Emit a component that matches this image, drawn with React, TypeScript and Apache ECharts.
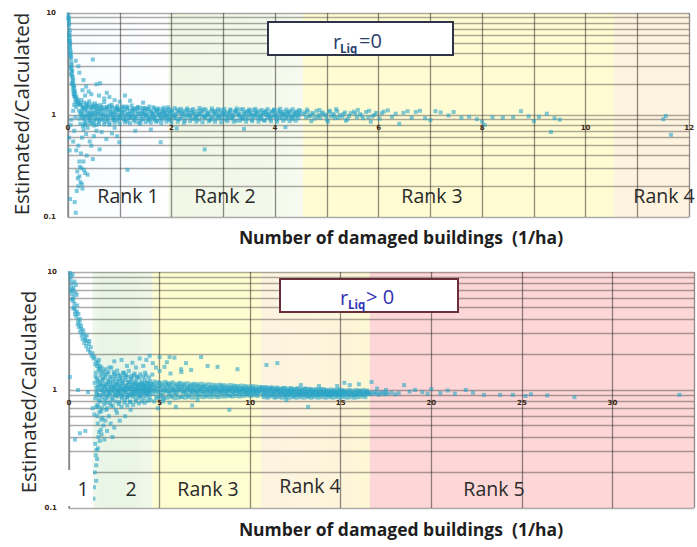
import React, { useEffect, useRef } from "react";
import * as echarts from "echarts";

// ---------- Upper chart (rLiq = 0) ----------
const topStreak: number[][] = [
  [0.01, 9.6], [0.02, 8.4], [0.02, 7.5], [0.03, 6.8], [0.02, 6.1], [0.03, 5.6], [0.04, 5.0], [0.03, 4.6],
  [0.05, 4.2], [0.04, 3.9], [0.05, 3.6], [0.06, 3.3], [0.07, 3.1], [0.05, 2.9], [0.08, 2.7], [0.06, 2.5],
  [0.09, 2.35], [0.1, 2.2], [0.08, 2.05], [0.11, 1.95], [0.12, 1.85], [0.1, 1.75], [0.13, 1.7], [0.14, 1.6],
  [0.12, 1.55], [0.16, 1.5], [0.15, 1.45], [0.18, 1.42], [0.2, 1.38], [0.17, 1.33], [0.22, 1.3], [0.19, 1.27],
  [0.25, 1.25], [0.15, 3.4], [0.2, 3.0], [0.22, 2.6], [0.48, 3.5], [0.55, 2.0], [0.62, 2.05], [0.3, 2.2],
  [0.35, 1.9], [0.4, 1.7], [0.45, 1.6], [0.28, 1.75], [0.33, 1.55], [0.6, 1.55], [0.7, 1.45], [0.8, 1.5],
  [0.9, 1.4], [1.0, 1.35], [1.2, 1.38], [1.45, 1.32], [0.75, 1.65], [1.1, 1.55], [0.02, 0.6], [0.05, 0.8],
  [0.03, 0.45], [0.06, 0.9], [0.01, 9.0], [0.02, 5.3], [0.04, 4.4], [0.07, 2.8], [0.09, 2.0], [0.11, 1.6],
  [0.01, 8.8], [0.02, 7.9], [0.03, 6.4], [0.03, 5.9], [0.04, 5.3], [0.04, 4.8], [0.05, 4.0], [0.06, 3.7],
  [0.06, 3.0], [0.07, 2.6], [0.08, 2.4], [0.09, 2.15], [0.1, 1.9], [0.12, 1.7], [0.13, 1.5], [0.14, 1.35],
  [0.16, 1.2], [0.12, 1.25], [0.1, 1.1], [0.14, 0.95],
];
const topLow: number[][] = [
  [0.04, 0.15], [0.13, 0.14], [0.15, 0.11], [0.17, 0.18], [0.2, 0.2], [0.22, 0.25], [0.24, 0.22], [0.26, 0.3],
  [0.18, 0.28], [0.3, 0.35], [0.28, 0.19], [0.33, 0.27], [0.36, 0.4], [0.38, 0.26], [0.48, 0.37], [0.25, 0.42],
  [0.2, 0.5], [0.61, 0.46], [0.74, 0.58], [0.99, 0.54], [1.15, 0.29], [1.79, 0.54], [2.64, 0.46], [0.42, 0.55],
  [0.5, 0.62], [0.35, 0.65], [0.55, 0.7], [0.3, 0.72], [0.65, 0.68], [0.85, 0.66], [0.45, 0.5], [0.27, 0.6],
  [0.22, 0.35], [0.16, 0.45], [0.9, 0.75], [1.3, 0.7], [0.95, 0.62], [1.6, 0.72], [2.1, 0.74], [3.4, 0.73],
  [4.2, 0.76], [0.12, 0.7], [0.1, 0.55], [0.32, 0.82], [0.23, 0.31], [0.19, 0.24], [0.27, 0.21], [0.31, 0.29],
];
const topBand: number[][] = [
  [0.21, 1.1], [0.22, 0.92], [0.23, 1.28], [0.24, 0.82], [0.25, 1.05], [0.26, 1.4], [0.27, 0.96], [0.28, 1.18],
  [0.29, 0.78], [0.3, 1.02], [0.31, 1.32], [0.32, 0.9], [0.33, 1.12], [0.34, 0.85], [0.35, 1.24], [0.36, 0.98],
  [0.37, 1.08], [0.38, 0.75], [0.39, 1.2], [0.4, 0.94], [0.41, 1.36], [0.42, 1.04], [0.43, 0.88], [0.44, 1.15],
  [0.45, 0.97], [0.46, 1.27], [0.47, 0.83], [0.48, 1.06], [0.49, 1.0], [0.5, 1.19], [0.51, 0.91], [0.52, 1.3],
  [0.53, 0.95], [0.54, 1.1], [0.55, 0.8], [0.56, 1.03], [0.57, 1.22], [0.58, 0.93], [0.59, 1.13], [0.6, 0.87],
  [0.62, 1.07], [0.63, 1.25], [0.64, 0.97], [0.66, 1.16], [0.67, 0.9], [0.68, 1.01], [0.7, 1.34], [0.71, 0.86],
  [0.72, 1.09], [0.74, 0.96], [0.75, 1.2], [0.77, 0.92], [0.78, 1.05], [0.8, 0.84], [0.81, 1.14], [0.83, 0.99],
  [0.84, 1.26], [0.86, 0.94], [0.87, 1.08], [0.89, 0.89], [0.9, 1.17], [0.92, 1.02], [0.93, 0.95], [0.95, 1.22],
  [0.96, 0.88], [0.98, 1.1], [0.99, 1.0], [1.01, 1.12], [1.03, 0.93], [1.05, 1.04], [1.06, 1.2], [1.08, 0.9],
  [1.1, 1.07], [1.12, 0.97], [1.14, 1.15], [1.15, 0.86], [1.17, 1.02], [1.19, 1.1], [1.21, 0.95], [1.23, 1.24],
  [1.25, 0.99], [1.27, 0.89], [1.29, 1.06], [1.31, 1.14], [1.33, 0.93], [1.35, 1.03], [1.37, 0.84], [1.39, 1.18],
  [1.41, 0.98], [1.43, 1.09], [1.45, 0.91], [1.47, 1.01], [1.49, 1.13], [1.51, 0.95], [1.53, 1.05], [1.55, 0.88],
  [1.57, 1.21], [1.59, 0.97], [1.61, 1.08], [1.63, 0.92], [1.65, 1.0], [1.67, 1.16], [1.69, 0.94], [1.71, 1.06],
  [1.73, 0.87], [1.75, 1.11], [1.77, 0.99], [1.79, 1.03], [1.81, 0.9], [1.83, 1.14], [1.85, 0.96], [1.87, 1.07],
  [1.89, 0.93], [1.91, 1.01], [1.93, 1.19], [1.95, 0.89], [1.97, 1.04], [1.99, 0.97], [2.02, 1.08], [2.05, 0.94],
  [2.08, 1.02], [2.11, 1.13], [2.14, 0.91], [2.17, 1.05], [2.2, 0.97], [2.23, 1.1], [2.26, 0.88], [2.29, 1.0],
  [2.32, 1.07], [2.35, 0.95], [2.38, 1.12], [2.41, 0.92], [2.44, 1.03], [2.47, 0.98], [2.5, 1.09], [2.53, 0.9],
  [2.56, 1.04], [2.59, 0.96], [2.62, 1.14], [2.65, 0.93], [2.68, 1.01], [2.71, 1.06], [2.74, 0.89], [2.77, 1.1],
  [2.8, 0.97], [2.83, 1.03], [2.86, 0.92], [2.89, 1.08], [2.92, 0.99], [2.95, 1.12], [2.98, 0.94], [3.01, 1.02],
  [3.04, 0.9], [3.07, 1.06], [3.1, 0.96], [3.13, 1.11], [3.16, 0.93], [3.19, 1.0], [3.22, 1.07], [3.25, 0.88],
  [3.28, 1.04], [3.31, 0.97], [3.34, 1.13], [3.37, 0.91], [3.4, 1.02], [3.43, 0.95], [3.46, 1.09], [3.49, 0.99],
  [3.52, 1.05], [3.55, 0.9], [3.58, 1.12], [3.61, 0.96], [3.64, 1.03], [3.67, 0.93], [3.7, 1.08], [3.73, 0.98],
  [3.76, 1.01], [3.79, 0.89], [3.82, 1.1], [3.85, 0.95], [3.88, 1.04], [3.91, 0.92], [3.94, 1.07], [3.97, 0.97],
  [4.0, 1.02], [4.03, 0.9], [4.06, 1.11], [4.09, 0.94], [4.12, 1.05], [4.15, 0.99], [4.18, 1.08], [4.21, 0.92],
  [4.24, 1.03], [4.27, 0.96], [4.3, 1.1], [4.33, 0.91], [4.36, 1.01], [4.39, 0.97], [4.42, 1.06], [4.45, 0.93],
  [4.48, 1.04],
];
const topBandB: number[][] = [
  [0.24, 1.0], [0.29, 1.15], [0.33, 0.97], [0.37, 1.3], [0.41, 0.9], [0.45, 1.05], [0.5, 0.86], [0.54, 1.16],
  [0.58, 1.03], [0.63, 0.91], [0.67, 1.12], [0.72, 1.0], [0.76, 0.88], [0.8, 1.23], [0.85, 1.03], [0.89, 0.96],
  [0.94, 1.12], [0.98, 0.92], [1.02, 1.0], [1.07, 1.13], [1.11, 0.9], [1.16, 1.03], [1.2, 0.96], [1.24, 1.09],
  [1.28, 0.94], [1.33, 1.17], [1.38, 1.02], [1.42, 0.92], [1.46, 1.07], [1.5, 0.99], [1.54, 1.15], [1.58, 0.91],
  [1.62, 1.02], [1.66, 0.95], [1.7, 1.1], [1.74, 1.0], [1.78, 0.92], [1.82, 1.06], [1.86, 1.01], [1.9, 1.12],
  [1.94, 0.95], [1.98, 1.08], [2.03, 1.0], [2.09, 0.93], [2.15, 1.1], [2.21, 1.03], [2.27, 0.95], [2.33, 1.01],
  [2.39, 1.04], [2.45, 0.92], [2.51, 1.0], [2.57, 1.11], [2.63, 0.98], [2.69, 1.04], [2.75, 0.95], [2.81, 1.07],
  [2.87, 1.01], [2.93, 0.93], [2.99, 1.05], [3.05, 0.99], [3.11, 1.03], [3.17, 0.94], [3.23, 1.1], [3.29, 1.0],
  [3.35, 0.95], [3.41, 1.06], [3.47, 0.92], [3.53, 1.02], [3.59, 1.0], [3.65, 1.09], [3.71, 0.94], [3.77, 1.05],
  [3.83, 1.0], [3.89, 0.96], [3.95, 1.09], [4.01, 0.98], [4.07, 1.03], [4.13, 0.93], [4.19, 1.01], [4.25, 1.07],
  [4.31, 0.97], [4.37, 1.04], [4.43, 0.99], [4.49, 1.1],
];
const topBandC: number[][] = [
  [0.26, 1.08], [0.3, 0.93], [0.35, 1.17], [0.39, 1.03], [0.43, 0.96], [0.48, 1.22], [0.52, 1.05], [0.56, 0.9],
  [0.61, 1.14], [0.65, 1.02], [0.69, 0.95], [0.73, 1.18], [0.78, 0.97], [0.82, 1.07], [0.87, 0.91], [0.91, 1.06],
  [0.96, 1.15], [1.0, 0.94], [1.04, 1.08], [1.09, 0.98], [1.13, 1.21], [1.18, 0.93], [1.22, 1.03], [1.26, 1.13],
  [1.31, 0.97], [1.36, 1.09], [1.4, 0.88], [1.44, 1.03], [1.48, 1.17], [1.52, 1.01], [1.56, 0.93], [1.6, 1.09],
  [1.64, 1.04], [1.68, 0.9], [1.72, 1.13], [1.76, 1.03], [1.8, 0.95], [1.84, 1.09], [1.88, 0.98], [1.92, 1.05],
  [1.96, 0.92], [2.0, 1.11], [2.06, 0.98], [2.12, 1.06], [2.18, 0.92], [2.24, 1.04], [2.3, 1.12], [2.36, 0.98],
  [2.42, 1.07], [2.48, 0.94], [2.54, 1.02], [2.6, 1.08], [2.66, 0.96], [2.72, 1.01], [2.78, 0.91], [2.84, 1.1],
  [2.9, 0.96], [2.96, 1.03], [3.02, 1.09], [3.08, 0.93], [3.14, 1.04], [3.2, 0.97], [3.26, 1.11], [3.32, 1.02],
  [3.38, 0.94], [3.44, 1.04], [3.5, 1.1], [3.56, 0.96], [3.62, 1.05], [3.68, 1.0], [3.74, 0.91], [3.8, 1.07],
  [3.86, 1.02], [3.92, 0.97], [3.98, 1.11], [4.04, 0.95], [4.1, 1.07], [4.16, 1.02], [4.22, 0.96], [4.28, 1.05],
  [4.34, 0.94], [4.4, 1.08], [4.46, 1.01],
];
const topBandEdgePts: number[][] = [
  [0.3, 1.2], [0.34, 0.8], [0.38, 1.25], [0.42, 0.83], [0.46, 1.18], [0.5, 0.79], [0.55, 1.24], [0.6, 0.82],
  [0.65, 1.2], [0.7, 0.81], [0.75, 1.15], [0.8, 0.8], [0.85, 1.19], [0.9, 0.84], [0.95, 1.17], [1.0, 0.82],
  [1.05, 1.21], [1.1, 0.85], [1.15, 1.18], [1.2, 0.83], [1.25, 1.16], [1.3, 0.86], [1.35, 1.2], [1.4, 0.82],
  [1.45, 1.17], [1.5, 0.85], [1.55, 1.14], [1.6, 0.84], [1.65, 1.19], [1.7, 0.86], [1.75, 1.16], [1.8, 0.83],
  [1.85, 1.18], [1.9, 0.86], [1.95, 1.14], [2.0, 0.85], [2.06, 1.17], [2.12, 0.86], [2.18, 1.15], [2.24, 0.84],
  [2.3, 1.16], [2.36, 0.87], [2.42, 1.14], [2.48, 0.86], [2.54, 1.17], [2.6, 0.85], [2.66, 1.13], [2.72, 0.87],
  [2.78, 1.16], [2.84, 0.86], [2.9, 1.14], [2.96, 0.85], [3.02, 1.15], [3.08, 0.87], [3.14, 1.13], [3.2, 0.86],
  [3.26, 1.16], [3.32, 0.88], [3.38, 1.14], [3.44, 0.86], [3.5, 1.13], [3.56, 0.87], [3.62, 1.15], [3.68, 0.86],
  [3.74, 1.12], [3.8, 0.88], [3.86, 1.14], [3.92, 0.87], [3.98, 1.13], [4.04, 0.86], [4.1, 1.15], [4.16, 0.88],
  [4.22, 1.13], [4.28, 0.87], [4.34, 1.14], [4.4, 0.88], [4.46, 1.12],
];
const topRank3: number[][] = [
  [4.55, 1.02], [4.6, 0.95], [4.63, 1.08], [4.68, 0.99], [4.72, 1.05], [4.76, 0.92], [4.8, 1.1], [4.84, 1.0],
  [4.88, 0.94], [4.92, 1.06], [4.96, 1.01], [5.0, 0.9], [5.04, 1.07], [5.08, 0.97], [5.12, 1.03], [5.16, 0.93],
  [5.2, 1.09], [5.25, 1.0], [5.3, 0.96], [5.35, 1.06], [5.4, 0.91], [5.46, 1.04], [5.52, 1.08], [5.58, 0.95],
  [5.64, 1.02], [5.7, 0.93], [5.76, 1.07], [5.82, 1.1], [5.88, 0.97], [5.95, 1.05], [6.02, 0.92], [6.1, 1.08],
  [6.18, 1.11], [6.26, 0.96], [6.33, 1.03], [6.4, 0.82], [6.48, 1.05], [6.56, 1.09], [6.64, 0.94], [6.72, 1.07],
  [6.8, 1.1], [6.9, 0.93], [7.0, 0.89], [7.1, 1.09], [7.2, 1.06], [7.35, 0.99], [7.45, 1.07], [7.6, 0.94],
  [7.75, 0.96], [7.9, 0.91], [8.0, 0.86], [8.05, 0.8], [8.2, 0.95], [8.4, 0.94], [8.6, 0.95], [8.75, 1.09],
  [8.9, 0.97], [9.0, 0.87], [9.1, 0.96], [9.25, 1.03], [9.33, 0.68], [9.4, 0.93], [9.5, 0.9],
  [4.58, 1.06], [4.66, 0.97], [4.74, 1.01], [4.82, 0.95], [4.9, 1.03], [4.98, 0.98], [5.06, 1.1], [5.14, 0.99],
  [5.22, 0.94], [5.32, 1.02], [5.43, 0.98], [5.55, 1.03], [5.67, 0.99], [5.8, 0.95], [5.92, 1.0], [6.06, 1.04],
  [4.62, 1.13], [4.7, 0.87], [4.86, 1.12], [5.02, 0.86], [5.18, 1.14], [5.37, 0.88], [5.6, 1.12], [5.85, 0.86],
  [11.5, 0.91], [11.65, 0.64], [11.55, 0.98],
];

// ---------- Lower chart (rLiq > 0) ----------
const botStreak: number[][] = [
  [0.05, 9.8], [0.1, 9.2], [0.08, 8.6], [0.15, 8.0], [0.12, 7.4], [0.2, 7.0], [0.18, 6.5], [0.25, 6.1],
  [0.22, 5.7], [0.3, 5.4], [0.28, 5.0], [0.35, 4.7], [0.33, 4.4], [0.4, 4.2], [0.38, 7.8], [0.3, 8.3],
  [0.42, 6.4], [0.45, 5.2], [0.5, 3.9], [0.48, 3.6], [0.55, 3.4], [0.6, 4.0], [0.62, 3.1], [0.7, 2.9],
  [0.66, 3.5], [0.75, 2.7], [0.8, 3.0], [0.85, 2.5], [0.9, 2.8], [0.95, 2.35], [1.0, 2.6], [1.05, 2.2],
  [1.1, 2.45], [1.15, 2.1], [1.2, 2.3], [1.25, 1.95], [1.3, 2.05], [1.35, 1.85], [1.4, 1.9], [1.5, 1.75],
  [1.45, 1.65], [1.6, 1.7], [1.7, 1.6], [1.65, 1.8], [1.8, 1.55], [0.05, 1.29], [0.33, 0.38], [0.6, 0.43],
  [0.5, 1.0], [1.05, 0.96], [0.1, 6.9], [0.2, 9.5], [0.26, 7.3], [0.16, 5.9], [0.36, 6.7], [0.24, 4.9],
  [0.44, 4.6], [0.52, 4.4], [0.58, 3.7], [0.68, 3.3], [0.78, 3.2], [0.88, 2.65], [0.98, 2.9], [1.12, 2.6],
];
const botDown: number[][] = [
  [1.35, 0.12], [1.38, 0.15], [1.42, 0.2], [1.5, 0.23], [1.48, 0.28], [1.55, 0.26], [1.6, 0.32], [1.45, 0.35],
  [1.7, 0.37], [1.62, 0.4], [1.8, 0.42], [1.75, 0.46], [1.9, 0.5], [1.58, 0.52], [2.0, 0.55], [1.85, 0.58],
  [2.1, 0.45], [1.95, 0.38], [2.2, 0.6], [1.4, 0.62], [1.68, 0.65], [2.3, 0.52], [2.05, 0.68], [1.3, 0.7],
  [1.5, 0.72], [0.9, 0.45], [2.5, 0.48], [2.8, 0.55], [3.1, 0.6], [2.65, 0.64], [3.4, 0.68], [2.4, 0.4],
  [1.5, 0.17], [1.52, 0.31], [1.66, 0.44], [1.78, 0.56], [1.57, 0.6],
];
const botCloud: number[][] = [
  [1.42, 1.15], [1.45, 0.85], [1.48, 1.4], [1.51, 0.95], [1.54, 1.25], [1.57, 0.75], [1.6, 1.05], [1.63, 1.5],
  [1.66, 0.9], [1.69, 1.18], [1.72, 0.8], [1.75, 1.32], [1.78, 1.0], [1.81, 0.7], [1.84, 1.22], [1.87, 0.93],
  [1.9, 1.45], [1.93, 1.08], [1.96, 0.82], [1.99, 1.28], [2.02, 0.97], [2.05, 1.12], [2.08, 0.78], [2.11, 1.38],
  [2.14, 1.02], [2.17, 0.88], [2.2, 1.2], [2.23, 1.55], [2.26, 0.92], [2.29, 1.1], [2.32, 0.74], [2.35, 1.3],
  [2.38, 1.0], [2.41, 0.86], [2.44, 1.16], [2.47, 1.42], [2.5, 0.95], [2.53, 1.06], [2.56, 0.8], [2.59, 1.24],
  [2.62, 0.98], [2.65, 1.12], [2.68, 0.88], [2.71, 1.35], [2.74, 1.03], [2.77, 0.79], [2.8, 1.19], [2.83, 0.93],
  [2.86, 1.08], [2.89, 1.28], [2.92, 0.85], [2.95, 1.0], [2.98, 1.15], [3.01, 0.9], [3.04, 1.4], [3.07, 1.05],
  [3.1, 0.82], [3.13, 1.22], [3.16, 0.96], [3.19, 1.1], [3.22, 0.87], [3.25, 1.3], [3.28, 1.02], [3.31, 0.92],
  [3.34, 1.17], [3.37, 0.8], [3.4, 1.07], [3.43, 1.25], [3.46, 0.94], [3.49, 1.12], [3.52, 0.88], [3.55, 1.0],
  [3.58, 1.33], [3.61, 0.97], [3.64, 1.09], [3.67, 0.84], [3.7, 1.2], [3.73, 1.01], [3.76, 0.91], [3.79, 1.14],
  [3.82, 1.05], [3.85, 0.86], [3.88, 1.27], [3.91, 0.98], [3.94, 1.1], [3.97, 0.9], [4.0, 1.18], [4.03, 1.03],
  [4.06, 0.93], [4.09, 1.12], [4.12, 0.85], [4.15, 1.06], [4.18, 1.22], [4.21, 0.96], [4.24, 1.08], [4.27, 0.89],
  [4.3, 1.15], [4.33, 1.0], [4.36, 0.92], [4.39, 1.1], [4.42, 1.04], [4.45, 0.87], [4.48, 1.19], [4.51, 0.97],
  [4.54, 1.07],
];
const botCloudB: number[][] = [
  [1.5, 1.05], [1.56, 0.98], [1.62, 1.12], [1.68, 0.9], [1.74, 1.08], [1.8, 1.0], [1.86, 1.15], [1.92, 0.95],
  [1.98, 1.06], [2.04, 0.9], [2.1, 1.1], [2.16, 1.0], [2.22, 0.94], [2.28, 1.16], [2.34, 1.04], [2.4, 0.97],
  [2.46, 1.08], [2.52, 0.9], [2.58, 1.12], [2.64, 1.02], [2.7, 0.95], [2.76, 1.1], [2.82, 1.0], [2.88, 0.92],
  [2.94, 1.13], [3.0, 1.03], [3.06, 0.96], [3.12, 1.08], [3.18, 1.0], [3.24, 0.91], [3.3, 1.12], [3.36, 1.02],
  [3.42, 0.97], [3.48, 1.06], [3.54, 1.14], [3.6, 0.93], [3.66, 1.03], [3.72, 1.1], [3.78, 0.98], [3.84, 1.05],
  [3.9, 0.94], [3.96, 1.02], [4.02, 1.11], [4.08, 0.99], [4.14, 1.04], [4.2, 0.95], [4.26, 1.08], [4.32, 1.01],
  [4.38, 0.96], [4.44, 1.06], [4.5, 1.0], [4.56, 1.12],
];
const botCloudC: number[][] = [
  [1.47, 1.3], [1.53, 0.9], [1.59, 1.2], [1.65, 0.82], [1.71, 1.43], [1.77, 1.1], [1.83, 0.87], [1.89, 1.25],
  [1.95, 1.02], [2.01, 1.35], [2.07, 0.85], [2.13, 1.18], [2.19, 0.96], [2.25, 1.28], [2.31, 1.06], [2.37, 0.83],
  [2.43, 1.22], [2.49, 1.04], [2.55, 1.32], [2.61, 0.9], [2.67, 1.16], [2.73, 0.96], [2.79, 1.24], [2.85, 1.04],
  [2.91, 0.88], [2.97, 1.2], [3.03, 0.99], [3.09, 1.3], [3.15, 1.05], [3.21, 0.87], [3.27, 1.17], [3.33, 1.05],
  [3.39, 0.9], [3.45, 1.23], [3.51, 1.02], [3.57, 0.92], [3.63, 1.15], [3.69, 1.03], [3.75, 1.28], [3.81, 0.95],
  [3.87, 1.1], [3.93, 0.88], [3.99, 1.13], [4.05, 1.02], [4.11, 0.96], [4.17, 1.14], [4.23, 1.03], [4.29, 0.93],
  [4.35, 1.16], [4.41, 1.0], [4.47, 0.93], [4.53, 1.13],
];
const botCloudEdge: number[][] = [
  [1.55, 1.6], [1.62, 0.72], [1.7, 1.52], [1.78, 0.66], [1.86, 1.38], [1.94, 0.76], [2.02, 1.5], [2.1, 0.7],
  [2.18, 1.42], [2.26, 0.78], [2.34, 1.55], [2.42, 0.73], [2.5, 1.36], [2.58, 0.68], [2.66, 1.46], [2.74, 0.76],
  [2.82, 1.33], [2.9, 0.72], [2.98, 1.4], [3.06, 0.78], [3.14, 1.34], [3.22, 0.74], [3.3, 1.45], [3.38, 0.79],
  [3.46, 1.32], [3.54, 0.75], [3.62, 1.38], [3.7, 0.8], [3.78, 1.3], [3.86, 0.77], [3.94, 1.36], [4.02, 0.8],
  [4.1, 1.3], [4.18, 0.78], [4.26, 1.33], [4.34, 0.81], [4.42, 1.28], [4.5, 0.82],
];
const botUpper: number[][] = [
  [3.9, 1.85], [4.1, 1.6], [4.27, 1.8], [4.63, 1.69], [5.0, 1.9], [5.27, 1.57], [5.55, 1.9], [5.82, 1.88],
  [6.19, 1.5], [6.46, 1.69], [6.74, 1.48], [7.29, 1.9], [7.65, 1.6], [8.2, 1.57], [9.3, 1.5], [4.2, 1.4],
  [4.6, 1.35], [5.0, 1.45], [5.6, 1.38], [6.2, 1.42], [3.5, 1.7], [3.7, 1.55], [3.2, 1.6], [2.9, 1.8],
  [2.5, 1.75], [4.45, 1.95], [4.8, 1.55], [5.4, 1.72],
];
const botRank3: number[][] = [
  [4.6, 1.05], [4.65, 0.93], [4.7, 1.12], [4.75, 0.98], [4.8, 1.08], [4.85, 0.88], [4.9, 1.02], [4.95, 1.15],
  [5.0, 0.95], [5.05, 1.06], [5.1, 0.9], [5.15, 1.1], [5.2, 1.0], [5.25, 0.86], [5.3, 1.08], [5.35, 0.97],
  [5.4, 1.13], [5.45, 1.01], [5.5, 0.92], [5.55, 1.06], [5.6, 0.98], [5.65, 1.11], [5.7, 0.89], [5.75, 1.03],
  [5.8, 0.96], [5.85, 1.09], [5.9, 1.0], [5.95, 0.91], [6.0, 1.07], [6.05, 0.97], [6.1, 1.12], [6.15, 1.02],
  [6.2, 0.88], [6.25, 1.05], [6.3, 0.95], [6.35, 1.1], [6.4, 0.99], [6.45, 0.92], [6.5, 1.06], [6.55, 1.01],
  [6.6, 0.9], [6.65, 1.08], [6.7, 0.96], [6.75, 1.04], [6.8, 0.93], [6.85, 1.1], [6.9, 1.0], [6.95, 0.94],
  [7.0, 1.06], [7.05, 0.97], [7.1, 1.09], [7.15, 0.91], [7.2, 1.02], [7.25, 0.98], [7.3, 1.07], [7.35, 0.93],
  [7.4, 1.03], [7.45, 0.96], [7.5, 1.08], [7.55, 0.9], [7.6, 1.01], [7.65, 0.95], [7.7, 1.05], [7.75, 0.99],
  [7.8, 0.92], [7.85, 1.06], [7.9, 0.97], [7.95, 1.03], [8.0, 0.93], [8.05, 1.07], [8.1, 0.98], [8.15, 1.02],
  [8.2, 0.91], [8.25, 1.05], [8.3, 0.96], [8.35, 1.0], [8.4, 1.08], [8.45, 0.94], [8.5, 1.02], [8.55, 0.97],
  [8.6, 1.06], [8.65, 0.92], [8.7, 1.01], [8.75, 0.95], [8.8, 1.04], [8.85, 0.99], [8.9, 0.9], [8.95, 1.05],
  [9.0, 0.96], [9.05, 1.02], [9.1, 0.93], [9.15, 1.07], [9.2, 0.98], [9.25, 1.01], [9.3, 0.94], [9.35, 1.05],
  [9.4, 0.97], [9.45, 1.0], [9.5, 0.92], [9.55, 1.04], [9.6, 0.96], [9.65, 1.02], [9.7, 0.99], [9.75, 0.93],
  [9.8, 1.05], [9.85, 0.97], [9.9, 1.01], [9.95, 0.95], [10.0, 1.03], [10.05, 0.98], [10.1, 0.92], [10.15, 1.04],
  [10.2, 0.99], [10.25, 0.95], [10.3, 1.02], [10.35, 0.97], [10.4, 1.0], [10.45, 0.94], [10.5, 1.03],
  [5.55, 0.78], [5.9, 0.72], [6.8, 0.74], [8.85, 0.68], [4.9, 0.7], [5.2, 0.8], [7.1, 0.82], [4.7, 0.8],
];
const botRank3B: number[][] = [
  [4.68, 1.0], [4.78, 1.04], [4.88, 0.96], [4.98, 1.08], [5.08, 1.0], [5.18, 0.94], [5.28, 1.04], [5.38, 0.99],
  [5.48, 1.09], [5.58, 0.95], [5.68, 1.03], [5.78, 1.0], [5.88, 0.94], [5.98, 1.05], [6.08, 1.0], [6.18, 1.07],
  [6.28, 0.97], [6.38, 1.03], [6.48, 0.96], [6.58, 1.04], [6.68, 1.0], [6.78, 0.97], [6.88, 1.05], [6.98, 1.0],
  [7.08, 0.95], [7.18, 1.04], [7.28, 0.99], [7.38, 1.06], [7.48, 0.97], [7.58, 1.02], [7.68, 0.98], [7.78, 1.04],
  [7.88, 0.95], [7.98, 1.0], [8.08, 1.03], [8.18, 0.97], [8.28, 1.01], [8.38, 0.95], [8.48, 1.04], [8.58, 0.99],
  [8.68, 0.96], [8.78, 1.02], [8.88, 0.98], [8.98, 1.04], [9.08, 0.96], [9.18, 1.0], [9.28, 1.03], [9.38, 0.95],
  [9.48, 0.99], [9.58, 1.03], [9.68, 0.96], [9.78, 1.0], [9.88, 0.93], [9.98, 0.99], [10.08, 1.01], [10.18, 0.96],
  [10.28, 0.99], [10.38, 0.93], [10.48, 0.98],
];
const botRank3Edge: number[][] = [
  [4.72, 1.18], [4.82, 0.85], [4.92, 1.16], [5.02, 0.86], [5.12, 1.15], [5.22, 0.84], [5.32, 1.17], [5.42, 0.86],
  [5.52, 1.14], [5.62, 0.87], [5.72, 1.16], [5.82, 0.85], [5.92, 1.13], [6.02, 0.86], [6.12, 1.15], [6.22, 0.87],
  [6.32, 1.13], [6.42, 0.86], [6.52, 1.14], [6.62, 0.87], [6.72, 1.12], [6.82, 0.86], [6.92, 1.13], [7.02, 0.87],
  [7.12, 1.12], [7.22, 0.88], [7.32, 1.13], [7.42, 0.87], [7.52, 1.11], [7.62, 0.88], [7.72, 1.12], [7.82, 0.87],
  [7.92, 1.11], [8.02, 0.88], [8.12, 1.1], [8.22, 0.87], [8.32, 1.11], [8.42, 0.88], [8.52, 1.1], [8.62, 0.88],
  [8.72, 1.09], [8.82, 0.89], [8.92, 1.1], [9.02, 0.88], [9.12, 1.09], [9.22, 0.89], [9.32, 1.08], [9.42, 0.88],
  [9.52, 1.09], [9.62, 0.89], [9.72, 1.08], [9.82, 0.9], [9.92, 1.07], [10.02, 0.89], [10.12, 1.08], [10.22, 0.9],
  [10.32, 1.07], [10.42, 0.89], [10.52, 1.06],
];
const botRank4: number[][] = [
  [10.6, 0.96], [10.65, 1.04], [10.7, 0.9], [10.75, 1.0], [10.8, 0.94], [10.85, 1.06], [10.9, 0.97], [10.95, 0.89],
  [11.0, 1.02], [11.05, 0.95], [11.1, 0.99], [11.15, 0.91], [11.2, 1.05], [11.25, 0.96], [11.3, 0.93], [11.35, 1.01],
  [11.4, 0.88], [11.45, 0.98], [11.5, 1.03], [11.55, 0.94], [11.6, 0.97], [11.65, 0.9], [11.7, 1.02], [11.75, 0.95],
  [11.8, 0.99], [11.85, 0.92], [11.9, 1.04], [11.95, 0.96], [12.0, 0.9], [12.05, 1.0], [12.1, 0.94], [12.15, 0.98],
  [12.2, 0.91], [12.25, 1.02], [12.3, 0.95], [12.35, 0.97], [12.4, 0.89], [12.45, 1.01], [12.5, 0.93], [12.55, 0.96],
  [12.6, 1.03], [12.65, 0.92], [12.7, 0.98], [12.75, 0.94], [12.8, 0.9], [12.85, 1.0], [12.9, 0.95], [12.95, 0.97],
  [13.0, 0.91], [13.05, 1.02], [13.1, 0.94], [13.15, 0.96], [13.2, 0.89], [13.25, 0.99], [13.3, 0.93], [13.35, 1.01],
  [13.4, 0.95], [13.45, 0.9], [13.5, 0.97], [13.55, 0.93], [13.6, 1.0], [13.65, 0.94], [13.7, 0.96], [13.75, 0.9],
  [13.8, 0.98], [13.85, 0.92], [13.9, 1.01], [13.95, 0.95], [14.0, 0.91], [14.05, 0.97], [14.1, 0.93], [14.15, 0.99],
  [14.2, 0.9], [14.25, 0.95], [14.3, 0.92], [14.35, 0.98], [14.4, 0.94], [14.45, 0.9], [14.5, 0.96], [14.55, 0.92],
  [14.6, 0.99], [14.65, 0.93], [14.7, 0.95], [14.75, 0.9], [14.8, 0.97], [14.85, 0.92], [14.9, 0.94], [14.95, 1.0],
  [15.0, 0.91], [15.05, 0.96], [15.1, 0.93], [15.15, 0.98], [15.2, 0.9], [15.3, 0.95], [15.4, 0.92], [15.5, 0.97],
  [15.6, 0.94], [15.7, 0.9], [15.8, 0.96], [15.9, 0.92], [16.0, 0.98], [16.1, 0.93], [16.2, 0.95], [16.3, 0.91],
  [16.4, 0.97], [16.5, 0.93], [16.6, 0.95], [16.7, 0.92], [16.8, 0.96], [16.9, 0.93], [17.0, 0.95], [17.1, 0.91],
  [17.2, 0.94], [17.3, 0.96], [17.4, 0.92], [17.5, 0.94], [17.6, 0.93], [17.8, 0.95], [18.0, 0.92], [18.2, 0.94],
  [10.9, 1.63], [11.5, 1.69], [13.2, 0.72], [12.0, 0.82], [15.5, 1.1], [16.0, 1.12], [15.2, 1.15], [14.8, 1.08],
  [12.8, 1.1], [13.8, 1.08],
];
const botRank4B: number[][] = [
  [10.62, 1.0], [10.72, 0.94], [10.82, 0.99], [10.92, 0.93], [11.02, 0.97], [11.12, 1.02], [11.22, 0.92], [11.32, 0.97],
  [11.42, 0.94], [11.52, 0.99], [11.62, 0.93], [11.72, 0.97], [11.82, 0.95], [11.92, 0.9], [12.02, 0.96], [12.12, 0.92],
  [12.22, 0.97], [12.32, 0.93], [12.42, 0.96], [12.52, 0.9], [12.62, 0.95], [12.72, 0.92], [12.82, 0.97], [12.92, 0.93],
  [13.02, 0.95], [13.12, 0.92], [13.22, 0.96], [13.32, 0.9], [13.42, 0.93], [13.52, 0.95], [13.62, 0.91], [13.72, 0.94],
  [13.82, 0.92], [13.92, 0.96], [14.02, 0.93], [14.12, 0.95], [14.22, 0.92], [14.32, 0.94], [14.42, 0.91], [14.52, 0.93],
  [14.62, 0.95], [14.72, 0.92], [14.82, 0.94], [14.92, 0.91], [15.02, 0.94], [15.12, 0.92], [15.25, 0.95], [15.35, 0.93],
  [15.45, 0.91], [15.55, 0.95], [15.65, 0.92], [15.75, 0.94], [15.85, 0.91], [15.95, 0.94], [16.05, 0.92], [16.15, 0.96],
  [16.25, 0.93], [16.35, 0.95], [16.45, 0.92], [16.55, 0.94],
];
const botRank4Edge: number[][] = [
  [10.66, 1.06], [10.76, 0.87], [10.86, 1.04], [10.96, 0.86], [11.06, 1.05], [11.16, 0.88], [11.26, 1.03], [11.36, 0.86],
  [11.46, 1.05], [11.56, 0.87], [11.66, 1.03], [11.76, 0.86], [11.86, 1.04], [11.96, 0.87], [12.06, 1.03], [12.16, 0.86],
  [12.26, 1.04], [12.36, 0.87], [12.46, 1.02], [12.56, 0.86], [12.66, 1.03], [12.76, 0.87], [12.86, 1.02], [12.96, 0.86],
  [13.06, 1.03], [13.16, 0.87], [13.26, 1.02], [13.36, 0.86], [13.46, 1.01], [13.56, 0.87], [13.66, 1.02], [13.76, 0.86],
  [13.86, 1.01], [13.96, 0.87], [14.06, 1.02], [14.16, 0.86], [14.26, 1.0], [14.36, 0.87], [14.46, 1.01], [14.56, 0.86],
  [14.66, 1.0], [14.76, 0.87], [14.86, 1.01], [14.96, 0.86], [15.06, 1.0], [15.16, 0.87], [15.26, 0.99], [15.36, 0.86],
  [15.46, 1.0], [15.56, 0.87], [15.66, 0.99], [15.76, 0.86], [15.86, 1.0], [15.96, 0.87], [16.06, 0.99], [16.16, 0.88],
  [16.26, 1.0], [16.36, 0.87], [16.46, 0.99],
];
const botRank5: number[][] = [
  [16.7, 1.17], [18.5, 1.1], [19.1, 1.0], [19.5, 0.96], [20.0, 1.02], [20.5, 0.94], [20.9, 0.99], [21.3, 0.93],
  [21.9, 1.0], [22.3, 0.95], [22.9, 0.91], [23.8, 0.91], [24.5, 0.91], [25.2, 0.89], [25.5, 0.92], [26.4, 0.9],
  [27.9, 0.87], [33.7, 0.91], [17.0, 1.03], [17.5, 1.0], [18.8, 0.97], [19.8, 0.93],
];

// Band edges (x values) for rank zones
const topBandEdges = [0, 1.94, 4.54, 10.55, 12];
const botBandEdges = [0, 1.3, 4.6, 10.6, 16.6, 34.5];
const minorLogTicks = [0.2, 0.3, 0.4, 0.5, 0.6, 0.7, 0.8, 0.9, 2, 3, 4, 5, 6, 7, 8, 9];

const topRankLabels = ["Rank 1", "Rank 2", "Rank 3", "Rank 4"];
const botRankLabels = ["1", "2", "Rank 3", "Rank 4", "Rank 5"];

const FONT = "'Open Sans', Lato, sans-serif";

export default function App() {
  const ref = useRef<HTMLDivElement>(null);
  useEffect(() => {
    if (!ref.current) return;
    const chart = echarts.init(ref.current, undefined, { renderer: "svg" });
    const LG = (stops: [number, string][]) =>
      new echarts.graphic.LinearGradient(0, 0, 1, 0, stops.map(([offset, color]) => ({ offset, color })));

    const topBandColors: any[] = [
      LG([[0, "#f9fdfe"], [1, "#fefeff"]]),
      LG([[0, "#f1f8e6"], [0.7, "#f3f9ea"], [1, "#f7fbf0"]]),
      "#fffcd4",
      "#fdf3de",
    ];
    const botBandColors: any[] = [
      "#ffffff",
      LG([[0, "#f1f9ee"], [0.15, "#e9f5e6"], [0.7, "#ebf6e5"], [1, "#f3f9ea"]]),
      "#fffdd2",
      LG([[0, "#fdf4e0"], [0.8, "#fdf5da"], [1, "#fef9d4"]]),
      "#fdd7d7",
    ];
    const gridColor = "rgba(40,35,35,0.38)";
    const vGridColor = "rgba(40,35,35,0.52)";

    const bandData = (edges: number[], colors: any[]) =>
      colors.map((c, i) => [{ xAxis: edges[i], itemStyle: { color: c } }, { xAxis: edges[i + 1] }]);

    const tickLabel = {
      fontSize: 7,
      fontWeight: "bold" as const,
      color: "#3a2812",
      fontFamily: "DejaVu Sans",
    };

    const xAxisCommon = (gridIndex: number, max: number, interval: number, every: number, offset: number, margin: number) => ({
      type: "value" as const,
      gridIndex,
      min: 0,
      max,
      interval,
      z: 3,
      offset,
      axisLine: { show: false, onZero: false },
      axisTick: { show: false },
      axisLabel: {
        ...tickLabel,
        margin,
        formatter: (v: number) => (Math.abs(v % every) < 1e-9 ? String(v) : ""),
      },
      splitLine: { show: true, lineStyle: { color: vGridColor, width: 1.3 } },
    });

    const yAxisCommon = (gridIndex: number) => ({
      type: "log" as const,
      logBase: 10,
      gridIndex,
      min: 0.1,
      max: 10,
      z: 3,
      axisLine: { show: true, lineStyle: { color: "#8a8a8a", width: 1.5 } },
      axisTick: { show: false },
      axisLabel: {
        ...tickLabel,
        margin: 12,
        formatter: (v: number) => String(Number(v.toPrecision(2))),
      },
      splitLine: { show: true, lineStyle: { color: gridColor, width: 1.3 } },
    });

    const pointStyle = { color: "rgba(40,163,200,0.74)" };

    const scatter = (data: number[][], idx: number, extra: any = {}) => ({
      type: "scatter" as const,
      xAxisIndex: idx,
      yAxisIndex: idx,
      data,
      symbol: "rect",
      symbolSize: 4,
      itemStyle: pointStyle,
      z: 4,
      silent: true,
      ...extra,
    });

    const markers = (edges: number[], colors: any[]) => ({
      markArea: { silent: true, z: 1, data: bandData(edges, colors) },
      markLine: {
        silent: true,
        z: 3,
        symbol: "none",
        label: { show: false },
        lineStyle: { color: gridColor, width: 1.3, type: "solid" },
        data: minorLogTicks.map((v) => ({ yAxis: v })),
      },
    });

    const text = (t: string, x: number, y: number, style: any = {}, extra: any = {}) => ({
      type: "text",
      x,
      y,
      z: 20,
      ...extra,
      style: {
        text: t,
        fontFamily: FONT,
        fontSize: 19.5,
        fill: "#2a2a2a",
        textAlign: "center",
        textVerticalAlign: "middle",
        ...style,
      },
    });

    const topRankX = [128, 225, 432, 664];
    const botRankX = [83, 131, 208, 310, 494];

    const option: any = {
      animation: false,
      grid: [
        { left: 68, top: 13, width: 629, height: 204 },
        { left: 69, top: 272, width: 628, height: 236 },
      ],
      xAxis: [xAxisCommon(0, 12, 1, 2, -103, 10), xAxisCommon(1, 34.5, 5, 5, -118, 9)],
      yAxis: [yAxisCommon(0), yAxisCommon(1)],
      series: [
        scatter([], 0, markers(topBandEdges, topBandColors)),
        scatter(topStreak, 0),
        scatter(topLow, 0),
        scatter(topBand, 0),
        scatter(topBandB, 0),
        scatter(topBandC, 0),
        scatter(topBandEdgePts, 0),
        scatter(topRank3, 0),
        scatter([], 1, markers(botBandEdges, botBandColors)),
        scatter(botStreak, 1),
        scatter(botDown, 1),
        scatter(botCloud, 1),
        scatter(botCloudB, 1),
        scatter(botCloudC, 1),
        scatter(botCloudEdge, 1),
        scatter(botUpper, 1),
        scatter(botRank3, 1),
        scatter(botRank3B, 1),
        scatter(botRank3Edge, 1),
        scatter(botRank4, 1),
        scatter(botRank4B, 1),
        scatter(botRank4Edge, 1),
        scatter(botRank5, 1),
      ],
      graphic: [
        { type: "rect", z: 15, shape: { x: 62, y: 470, width: 31, height: 36 }, style: { fill: "#ffffff" } },
        text("Estimated/Calculated", 21, 114, { fontSize: 20.5 }, { rotation: Math.PI / 2 }),
        text("Estimated/Calculated", 28, 392, { fontSize: 20.5 }, { rotation: Math.PI / 2 }),
        text("Number of damaged buildings  (1/ha)", 401, 237, { fontSize: 17.5, fontWeight: "bold", fill: "#1e1e1e" }),
        text("Number of damaged buildings  (1/ha)", 401, 529, { fontSize: 17.5, fontWeight: "bold", fill: "#1e1e1e" }),
        ...topRankLabels.map((t, i) => text(t, topRankX[i], 195, {})),
        ...botRankLabels.map((t, i) => text(t, botRankX[i], i === 3 ? 485 : 488, {})),
        { type: "rect", z: 18, shape: { x: 268, y: 22, width: 185, height: 33 }, style: { fill: "#ffffff", stroke: "#2f3347", lineWidth: 2 } },
        { type: "rect", z: 18, shape: { x: 280, y: 279, width: 178, height: 33 }, style: { fill: "#ffffff", stroke: "#6b2f3c", lineWidth: 2 } },
        text("r", 333, 41, { fontSize: 20, fill: "#2c3e6b", textAlign: "left" }),
        text("Liq", 340, 48, { fontSize: 11.5, fontWeight: "bold", fill: "#2c3e6b", textAlign: "left" }),
        text("=0", 359, 40, { fontSize: 20, fill: "#2c3e6b", textAlign: "left" }),
        text("r", 340, 297, { fontSize: 20, fill: "#3232b4", textAlign: "left" }),
        text("Liq", 348, 304, { fontSize: 11.5, fontWeight: "bold", fill: "#3232b4", textAlign: "left" }),
        text("> 0", 366, 296, { fontSize: 20, fill: "#3232b4", textAlign: "left" }),
      ],
    };
    chart.setOption(option);
    return () => chart.dispose();
  }, []);
  return (
    <div
      ref={ref}
      style={{ position: "fixed", left: 0, top: 0, width: 697, height: 547, background: "#ffffff" }}
    />
  );
}
